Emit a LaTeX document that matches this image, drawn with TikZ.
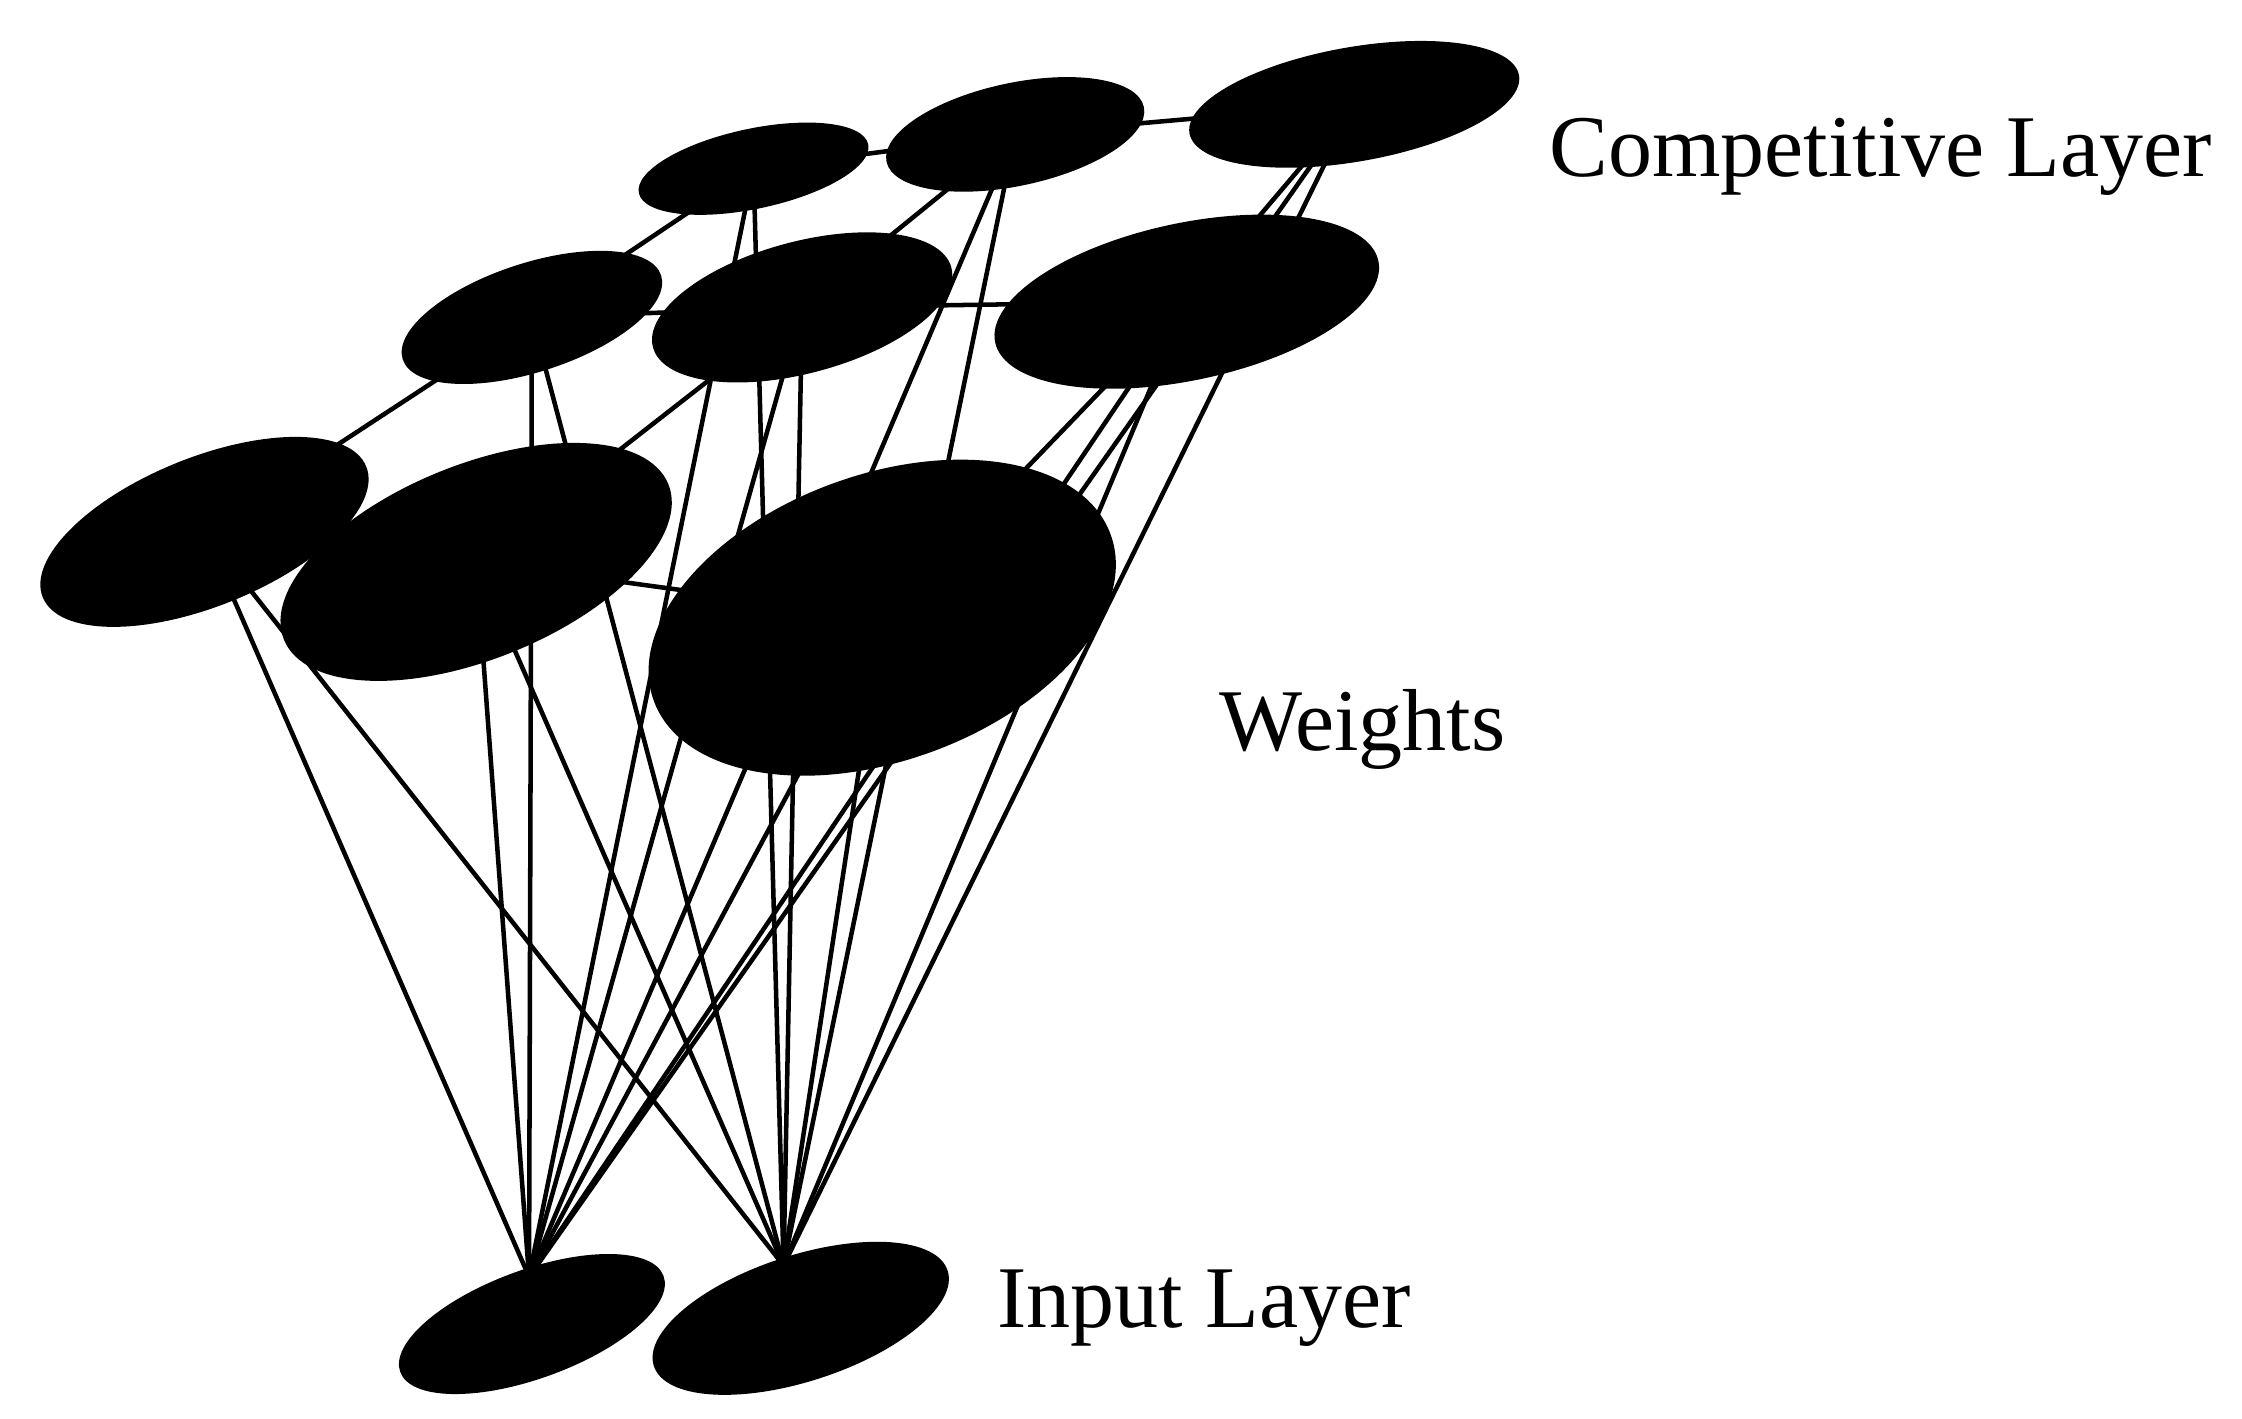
\documentclass[tikz,border=0pt]{standalone}
\usepackage{fontspec}
\setmainfont{Liberation Serif}
\usetikzlibrary{shapes.geometric}
\begin{document}
\begin{tikzpicture}[x=0.01cm,y=-0.01cm,
  neu/.style={fill=black},
  wire/.style={line width=0.9pt},
  lab/.style={font=\fontsize{17.5}{20}\selectfont, anchor=west, inner sep=0}]
\useasboundingbox (0,0) rectangle (1568,992);
% centers
\coordinate (A1) at (527,118); \coordinate (A2) at (710,94); \coordinate (A3) at (947,73);
\coordinate (B1) at (372,222); \coordinate (B2) at (561,215); \coordinate (B3) at (830,211);
\coordinate (C1) at (143,372); \coordinate (C2) at (333,393); \coordinate (C3) at (617,432);
\coordinate (I1) at (372,926); \coordinate (I2) at (560,922);
\coordinate (i1) at (370,893); \coordinate (i2) at (548,885);
% grid
\draw[wire] (A1)--(A2)--(A3) (B1)--(B2)--(B3) (C1)--(C2)--(C3)
  (A1)--(B1)--(C1) (A2)--(B2)--(C2) (A3)--(B3)--(C3);
% weights
\foreach \n/\a/\b in {A1/515/520,A2/680/650,A3/900/880,B1/362/372,B2/490/540,B3/770/790,C1/150/160,C2/335/345,C3/620/580}{
  \draw[wire] (\n) ++(0,0) -- (i1);
  \draw[wire] (\n) -- (i2);
}
% neurons
\fill[neu,rotate around={12:(A1)}] (A1) ellipse (82 and 28);
\fill[neu,rotate around={12:(A2)}] (A2) ellipse (92 and 36);
\fill[neu,rotate around={10:(A3)}] (A3) ellipse (117 and 40);
\fill[neu,rotate around={18:(B1)}] (B1) ellipse (95 and 38);
\fill[neu,rotate around={15:(B2)}] (B2) ellipse (108 and 46);
\fill[neu,rotate around={12:(B3)}] (B3) ellipse (137 and 55);
\fill[neu,rotate around={22:(C1)}] (C1) ellipse (122 and 52);
\fill[neu,rotate around={22:(C2)}] (C2) ellipse (145 and 68);
\fill[neu,rotate around={20:(C3)}] (C3) ellipse (170 and 100);
\fill[neu,rotate around={20:(I1)}] (I1) ellipse (98 and 38);
\fill[neu,rotate around={18:(I2)}] (I2) ellipse (108 and 44);
% labels
\node[lab] (tc) at (1083,110) {Competitive Layer};
\node[lab] (tw) at (852,510) {Weights};
\node[lab] (ti) at (697,915) {Input Layer};
\end{tikzpicture}
\end{document}
